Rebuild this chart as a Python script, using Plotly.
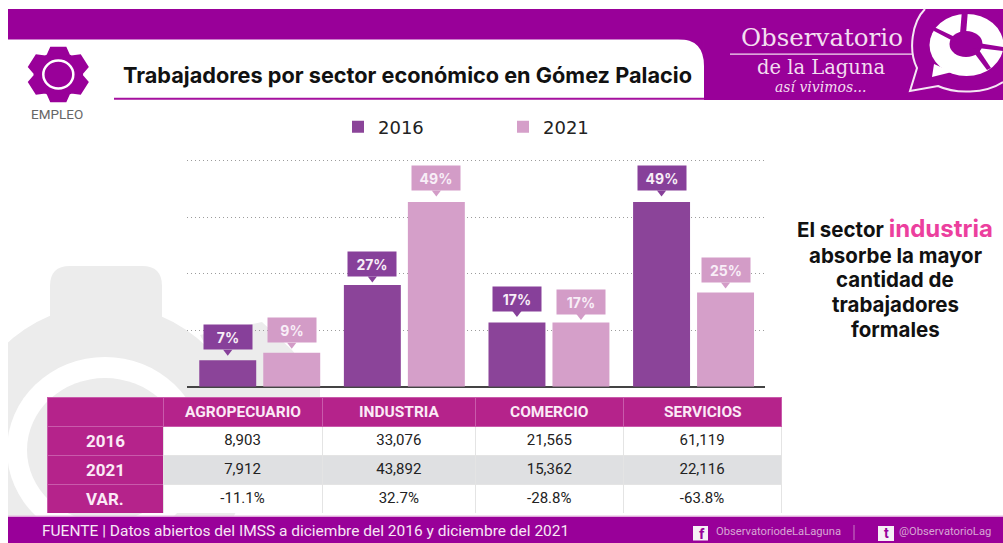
import numpy as np
import plotly.graph_objects as go

categories = ["AGROPECUARIO", "INDUSTRIA", "COMERCIO", "SERVICIOS"]
share_2016 = [7, 27, 17, 49]
share_2021 = [9, 49, 17, 25]
count_2016 = [8903, 33076, 21565, 61119]
count_2021 = [7912, 43892, 15362, 22116]
variation = ["-11.1%", "32.7%", "-28.8%", "-63.8%"]
row_labels = ["2016", "2021", "VAR."]
years = ["2016", "2021"]
grid_ticks = [15, 30, 45, 60]

W, H = 1003, 543
PURPLE = "#990099"
DARK = "#8B4499"
LIGHT = "#D59FC9"
MAGENTA = "#B5238B"
PALE = "#F3DDF0"

# pixel lifts of the callout boxes above their bars
lift_2016 = [10, 8, 11, 11]
lift_2021 = [9.5, 11, 8, 9.5]

base_y = 386.7
px_per_unit = 3.77
axis_top = 61
top_y = base_y - axis_top * px_per_unit


def px(x):
    return x / W


def py(y):
    return 1 - y / H


def pt(x, y):
    return f"{px(x):.5f},{py(y):.5f}"


def poly(points):
    return "M" + "L".join(pt(x, y) for x, y in points) + "Z"


def rect(x0, y0, x1, y1, color):
    return dict(type="rect", xref="paper", yref="paper", x0=px(x0), x1=px(x1),
                y0=py(y1), y1=py(y0), fillcolor=color, line_width=0, layer="below")


def ellipse(cx, cy, rx, ry, color, line=None, lw=0):
    return dict(type="circle", xref="paper", yref="paper", x0=px(cx - rx), x1=px(cx + rx),
                y0=py(cy + ry), y1=py(cy - ry), fillcolor=color,
                line=dict(color=line or color, width=lw), layer="below")


def path(d, fill=None, line=None, lw=0):
    s = dict(type="path", xref="paper", yref="paper", path=d, layer="below",
             line=dict(color=line or "rgba(0,0,0,0)", width=lw))
    if fill:
        s["fillcolor"] = fill
    return s


def gear(cx, cy, rx, ry):
    pts = []
    for k in range(6):
        a = np.deg2rad(90 + 60 * k)
        for da, r in [(-27, 0.78), (-14, 1.0), (14, 1.0), (27, 0.78)]:
            t = a + np.deg2rad(da)
            pts.append((cx + rx * r * np.cos(t), cy - ry * r * np.sin(t)))
    return poly(pts)


shapes = []
# watermark
G = "#ECECEC"
shapes += [
    ellipse(105, 450, 145, 145, G),
    path("M" + pt(50, 320) + "L" + pt(50, 286) + "Q" + pt(50, 266) + " " + pt(70, 266) + "L" + pt(142, 266)
         + "Q" + pt(162, 266) + " " + pt(162, 286) + "L" + pt(162, 320) + "Z", G),
    path(poly([(200, 335), (262, 322), (292, 350), (320, 386), (320, 400), (235, 400)]), G),
    ellipse(105, 450, 98, 93, "#FFFFFF"),
    ellipse(105, 450, 78, 72, G),
    rect(0, 250, 8, 543, "#FFFFFF"),
]
# header
shapes += [
    rect(8, 9, 1003, 39.5, PURPLE),
    rect(704, 39, 1003, 100, PURPLE),
    path("M" + pt(678, 39) + "Q" + pt(704, 39) + " " + pt(704, 66) + "L" + pt(704, 39) + "Z", PURPLE),
    rect(114, 97.7, 704, 99.7, "#A5109E"),
    path(gear(58.3, 74.5, 30.5, 27.5), PURPLE, PURPLE, 2),
    ellipse(58.3, 74.5, 15, 14, PURPLE, "#FFFFFF", 2.5),
    rect(730, 53.5, 912, 54.7, PALE),
]
# logo bubble
shapes += [
    path("M" + pt(925, 9) + "C" + pt(912, 22) + " " + pt(908, 50) + " " + pt(917, 68)
         + "L" + pt(910, 91) + "L" + pt(938, 86)
         + "C" + pt(955, 94) + " " + pt(985, 94) + " " + pt(1003, 82),
         None, "#F5E6F4", 2),
    ellipse(966.5, 45, 37, 31, "#FFFFFF"),
    ellipse(966, 44, 16.5, 13, PURPLE),
    path(poly([(932, 26), (934, 31), (955, 42), (957, 38)]), PURPLE),
    path(poly([(962, 10), (968, 10), (966, 34), (960, 34)]), PURPLE),
    path(poly([(978, 43), (1003, 47), (1003, 51), (978, 48)]), PURPLE),
    path(poly([(972, 50), (987, 70), (991, 68), (977, 47)]), PURPLE),
    path(poly([(934, 64), (932, 77), (952, 72)]), "#FFFFFF"),
]
# footer
shapes += [
    rect(8, 516.5, 1003, 543, PURPLE),
    rect(8, 515.5, 1003, 516.7, "#E6B6E0"),
    rect(853.5, 525, 854.5, 540, "#C77CC3"),
    rect(693, 526, 708, 540.5, "#F6F0F6"),
    rect(878, 526, 894, 541, "#F6F0F6"),
]

fig = go.Figure()
x_pos = np.arange(len(categories))
offset = 0.2213

fig.add_trace(go.Bar(x=x_pos, y=share_2016, name=years[0], marker=dict(color=DARK, line_width=0), hoverinfo="skip"))
fig.add_trace(go.Bar(x=x_pos, y=share_2021, name=years[1], marker=dict(color=LIGHT, line_width=0), hoverinfo="skip"))

annotations = []
for vals, lifts, sign, col in [(share_2016, lift_2016, -1, "#87409A"), (share_2021, lift_2021, 1, "#D39CC7")]:
    xs = x_pos + sign * offset
    fig.add_trace(go.Scatter(
        x=xs, y=[v + (l - 1.5) / px_per_unit for v, l in zip(vals, lifts)], mode="markers",
        marker=dict(symbol="triangle-down", size=8, color=col), showlegend=False, hoverinfo="skip"))
    for x, v, l in zip(xs, vals, lifts):
        annotations.append(dict(
            x=x, y=v, xref="x", yref="y", yshift=l, yanchor="bottom", xanchor="center",
            text=f"<b>{v}%</b>", showarrow=False, bgcolor=col, width=46, height=22, borderpad=1,
            font=dict(family="Inter, sans-serif", size=14, color="#F8EEF7")))


def note(x, y, text, size, color, family="Inter, sans-serif", anchor="center"):
    annotations.append(dict(x=px(x), y=py(y), xref="paper", yref="paper", text=text, showarrow=False,
                            xanchor=anchor, yanchor="middle", align=anchor,
                            font=dict(family=family, size=size, color=color)))


note(121, 75, "<b>Trabajadores por sector económico en Gómez Palacio</b>", 21.7, "#111111", anchor="left")
note(57, 114, "EMPLEO", 13.5, "#666666", family="Roboto, sans-serif")
note(822, 37, "Observatorio", 24.5, PALE, family="DejaVu Serif, serif")
note(820.5, 67, "de la Laguna", 19.5, PALE, family="DejaVu Serif, serif")
note(820, 87, "<i>así vivimos...</i>", 14, PALE, family="DejaVu Serif, serif")
note(895, 229, "<b>El sector </b><b><span style='color:#EC3F9E;font-size:24px'>industria</span></b>", 20.5, "#111111")
for y, line in zip([255, 279, 304, 329], ["absorbe la mayor", "cantidad de", "trabajadores", "formales"]):
    note(895, y, f"<b>{line}</b>", 20.5, "#111111")
note(39.5, 530.5, "FUENTE | Datos abiertos del IMSS a diciembre del 2016 y diciembre del 2021", 15.5, "#F7E6F5", family="Roboto, sans-serif", anchor="left")
note(714, 531, "ObservatoriodeLaLaguna", 11.2, "#D7A6D4", family="Roboto, sans-serif", anchor="left")
note(897, 531, "@ObservatorioLag", 11.2, "#D7A6D4", family="Roboto, sans-serif", anchor="left")
note(886, 533, "<b>t</b>", 14, PURPLE, family="Roboto, sans-serif")
note(702, 533.5, "<b>f</b>", 15, PURPLE, family="Roboto, sans-serif")
for y, label in zip([440.5, 469.5, 498.5], row_labels):
    note(105, y, f"<b>{label}</b>", 17, "#FBEAF6", family="Roboto, sans-serif")
for x, label in zip([243, 399, 549.5, 702.5], categories):
    note(x, 411.5, f"<b>{label}</b>", 15.5, "#FBEAF6", family="Roboto, sans-serif")

fig.add_trace(go.Table(
    domain=dict(x=[px(47), px(781)], y=[py(513.5), py(397)]),
    columnwidth=[116, 159, 153.5, 147.5, 158],
    header=dict(values=[""] * 5, height=29, fill_color=MAGENTA, line_color="#C95AAB",
                align="center", font=dict(family="Roboto, sans-serif", size=12, color="#FBEAF6")),
    cells=dict(
        values=[[""] * 3] + [[f"{a:,}", f"{b:,}", v] for a, b, v in zip(count_2016, count_2021, variation)],
        height=29,
        fill_color=[[MAGENTA] * 3] + [["#FFFFFF", "#DFE0E2", "#FFFFFF"]] * 4,
        line_color=[["#C95AAB"] * 3] + [["#E4E4E4"] * 3] * 4,
        align="center",
        font=dict(family="Roboto, sans-serif", size=15, color="#222222")),
))

fig.update_layout(
    width=W, height=H, margin=dict(l=0, r=0, t=0, b=0, pad=0), autosize=False,
    paper_bgcolor="#FFFFFF", plot_bgcolor="rgba(0,0,0,0)",
    barmode="group", bargap=0.115, bargroupgap=0.11,
    shapes=shapes, annotations=annotations,
    legend=dict(orientation="h", x=px(338), xanchor="left", y=py(127), yanchor="middle",
                entrywidth=120, entrywidthmode="pixels", bgcolor="rgba(0,0,0,0)",
                traceorder="normal", font=dict(family="DejaVu Sans, sans-serif", size=18, color="#222222")),
    xaxis=dict(domain=[px(187), px(765)], range=[-0.503, 3.494], showticklabels=False, ticks="",
               showgrid=False, zeroline=False, showline=False, fixedrange=True),
    yaxis=dict(domain=[py(base_y), py(top_y)], range=[0, axis_top], tickvals=grid_ticks, showticklabels=False,
               ticks="", showgrid=True, gridcolor="#9C9C9C", griddash="1px,3px", gridwidth=1,
               zeroline=True, zerolinecolor="#444444", zerolinewidth=1.6, showline=False, fixedrange=True),
)

fig.write_html("out.html", config=dict(displayModeBar=False),
               post_script="document.body.style.margin='0';document.body.style.overflow='hidden';")
